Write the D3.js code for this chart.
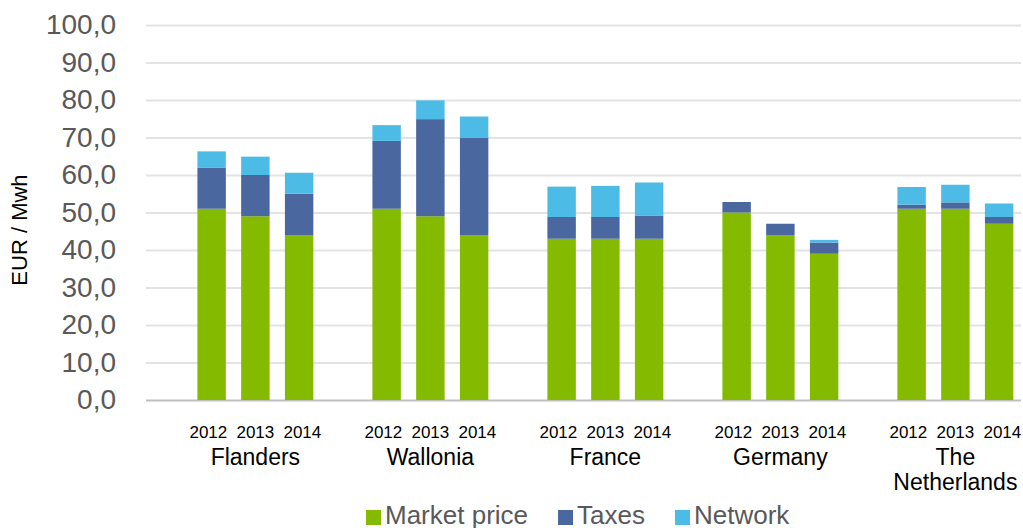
<!DOCTYPE html>
<html>
<head>
<meta charset="utf-8">
<script src="https://cdn.jsdelivr.net/npm/d3@7"></script>
<style>
  body { margin: 0; background: #fff; }
  svg { font-family: "Liberation Sans", Arial, sans-serif; }
</style>
</head>
<body>
<div id="chart-area"></div>
<script>
const WIDTH = 1023
const HEIGHT = 528
const PLOT = { LEFT: 146, RIGHT: 1021, TOP: 25, BOTTOM: 400 }

// data
const regions = ["Flanders", "Wallonia", "France", "Germany", "The Netherlands"]
const years = ["2012", "2013", "2014"]
const marketPrice = [51, 49, 44, 51, 49, 44, 43, 43, 43, 50, 44, 39, 51, 51, 47]
const taxes = [11, 11, 11, 18.1, 25.9, 26, 5.8, 5.8, 6.2, 2.8, 3, 3, 1.1, 1.7, 1.8]
const network = [4.3, 4.9, 5.6, 4.2, 5, 5.6, 8.1, 8.3, 8.8, 0, 0, 0.7, 4.7, 4.7, 3.6]
const yTicks = [0, 10, 20, 30, 40, 50, 60, 70, 80, 90, 100]
const seriesNames = ["Market price", "Taxes", "Network"]
const seriesKeys = ["market", "taxes", "network"]
const colors = ["#84bb00", "#4a67a0", "#4cbce6"]

const rows = []
regions.forEach((r, i) => {
  years.forEach((yr, j) => {
    const k = i * 3 + j
    rows.push({ key: r + "|" + yr, region: r, year: yr,
      market: marketPrice[k], taxes: taxes[k], network: network[k] })
  })
})

// one empty slot in front of every region
const slots = []
regions.forEach(r => {
  slots.push("gap|" + r)
  years.forEach(yr => slots.push(r + "|" + yr))
})

const svg = d3.select("#chart-area").append("svg")
  .attr("width", WIDTH)
  .attr("height", HEIGHT)

const x = d3.scaleBand()
  .domain(slots)
  .range([PLOT.LEFT, PLOT.RIGHT])
  .paddingInner(0.35)
  .paddingOuter(0.175)

const y = d3.scaleLinear()
  .domain([0, 100])
  .range([PLOT.BOTTOM, PLOT.TOP])

// grid + y labels
const yAxis = svg.append("g")
  .attr("transform", `translate(${PLOT.LEFT}, 0)`)
  .call(d3.axisLeft(y)
    .tickValues(yTicks)
    .tickSize(-(PLOT.RIGHT - PLOT.LEFT))
    .tickPadding(30)
    .tickFormat(d => d.toFixed(1).replace(".", ",")))
yAxis.select(".domain").remove()
yAxis.selectAll(".tick line")
  .attr("stroke", d => d === 0 ? "#bfbfbf" : "#e3e3e3")
  .attr("stroke-width", 2)
yAxis.selectAll(".tick text")
  .attr("fill", "#595959")
  .style("font-size", "28px")

// Y label
svg.append("text")
  .attr("transform", "translate(27, 230) rotate(-90)")
  .attr("text-anchor", "middle")
  .style("font-size", "22px")
  .attr("fill", "#000")
  .text("EUR / Mwh")

// stacked bars
const stack = d3.stack().keys(seriesKeys)
const layers = stack(rows)

svg.append("g").selectAll("g")
  .data(layers)
  .enter().append("g")
    .attr("fill", (d, i) => colors[i])
  .selectAll("rect")
  .data(d => d)
  .enter().append("rect")
    .attr("x", d => x(d.data.key))
    .attr("width", x.bandwidth())
    .attr("y", d => y(d[1]))
    .attr("height", d => y(d[0]) - y(d[1]))

// category labels: years spread a little wider than the bars, like the original
const groupCenter = r => x(r + "|2013") + x.bandwidth() / 2
const labels = svg.append("g")

labels.selectAll("text.year")
  .data(rows)
  .enter().append("text")
    .attr("class", "year")
    .attr("x", d => groupCenter(d.region) + (years.indexOf(d.year) - 1) * 47)
    .attr("y", 438)
    .attr("text-anchor", "middle")
    .style("font-size", "17px")
    .attr("fill", "#000")
    .text(d => d.year)

const regionLabels = labels.selectAll("text.region")
  .data(regions)
  .enter().append("text")
    .attr("class", "region")
    .attr("x", r => groupCenter(r))
    .attr("y", 465)
    .attr("text-anchor", "middle")
    .style("font-size", "23px")
    .attr("fill", "#000")
regionLabels.each(function(r) {
  const words = r === "The Netherlands" ? ["The", "Netherlands"] : [r]
  const el = d3.select(this)
  words.forEach((w, i) => {
    el.append("tspan")
      .attr("x", el.attr("x"))
      .attr("dy", i === 0 ? 0 : 25)
      .text(w)
  })
})

// legend
const legend = svg.append("g")
let lx = 366
seriesNames.forEach((name, i) => {
  legend.append("rect")
    .attr("x", lx)
    .attr("y", 510)
    .attr("width", 15)
    .attr("height", 15)
    .attr("fill", colors[i])
  const t = legend.append("text")
    .attr("x", lx + 19)
    .attr("y", 524)
    .style("font-size", "26px")
    .attr("fill", "#595959")
    .text(name)
  lx += 19 + t.node().getComputedTextLength() + 30
})
</script>
</body>
</html>
